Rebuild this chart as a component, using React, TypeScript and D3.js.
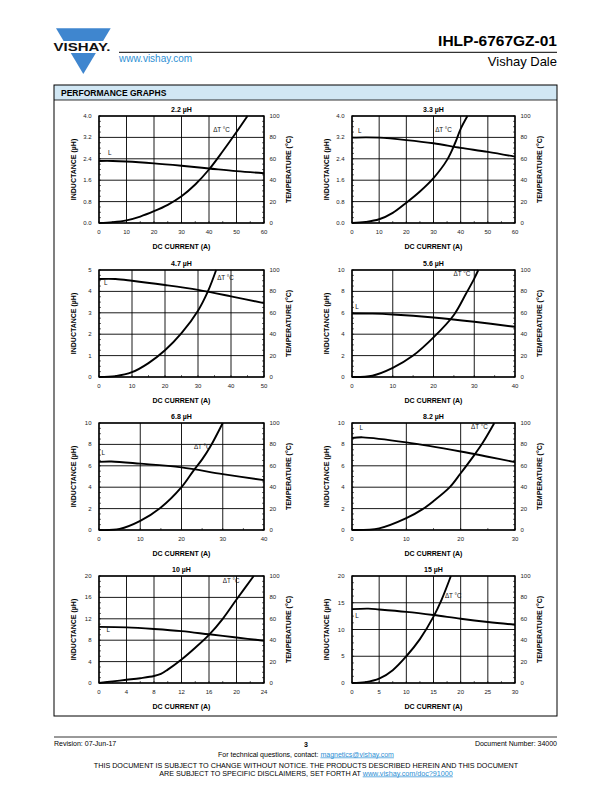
import React from "react";
import * as d3 from "d3";

type Pt = [number, number];

// ---------- chart configuration ----------
const chartTitles = ["2.2 µH", "3.3 µH", "4.7 µH", "5.6 µH", "6.8 µH", "8.2 µH", "10 µH", "15 µH"];
const xMaxes = [60, 60, 50, 40, 40, 30, 24, 30];
const xSteps = [10, 10, 10, 10, 10, 10, 4, 5];
const yMaxes = [4, 4, 5, 10, 10, 10, 20, 20];
const ySteps = [0.8, 0.8, 1, 2, 2, 2, 4, 5];
const yDecimals = [1, 1, 0, 0, 0, 0, 0, 0];
const tempTicks = [0, 20, 40, 60, 80, 100];

// inductance (µH) vs DC current (A)
const ind22: Pt[] = [[0, 2.32], [5, 2.32], [10, 2.3], [20, 2.23], [30, 2.14], [40, 2.04], [50, 1.94], [60, 1.86]];
const ind33: Pt[] = [[0, 3.19], [5, 3.2], [10, 3.19], [20, 3.1], [30, 2.98], [40, 2.81], [50, 2.66], [60, 2.48]];
const ind47: Pt[] = [[0, 4.58], [5, 4.58], [10, 4.5], [20, 4.3], [30, 4.07], [40, 3.77], [50, 3.45]];
const ind56: Pt[] = [[0, 5.94], [5, 5.92], [10, 5.84], [20, 5.56], [30, 5.16], [40, 4.69]];
const ind68: Pt[] = [[0, 6.37], [3, 6.4], [10, 6.2], [20, 5.85], [30, 5.22], [40, 4.66]];
const ind82: Pt[] = [[0, 8.6], [2, 8.66], [10, 8.19], [20, 7.34], [25, 6.85], [30, 6.34]];
const ind10: Pt[] = [[0, 10.5], [4, 10.4], [8, 10.1], [12, 9.7], [16, 9.1], [20, 8.5], [24, 7.9]];
const ind15: Pt[] = [[0, 13.8], [3, 13.9], [5, 13.75], [10, 13.3], [15, 12.7], [20, 12.0], [25, 11.4], [30, 10.9]];

// temperature rise (°C) vs DC current (A)
const temp22: Pt[] = [[0, 0], [5, 0.8], [10, 2.5], [15, 6], [20, 11], [25, 17], [30, 25], [35, 36], [40, 50], [45, 67], [50, 85], [54, 100]];
const temp33: Pt[] = [[0, 0], [5, 1], [10, 3.5], [15, 9.5], [20, 19], [25, 29.5], [30, 42], [35, 59], [38, 75], [40, 88], [42.5, 100]];
const temp47: Pt[] = [[0, 0], [5, 0.8], [10, 4.5], [15, 13], [20, 25], [25, 41], [30, 62], [33, 80], [35.5, 100]];
const temp56: Pt[] = [[0, 0], [5, 1.2], [10, 8.5], [15, 20], [20, 37], [25, 58], [28, 78], [30, 92], [31, 100]];
const temp68: Pt[] = [[0, 0], [5, 1], [10, 8.5], [15, 21], [20, 40], [23, 56], [25, 66], [27, 78], [30, 100]];
const temp82: Pt[] = [[0, 0], [5, 1.5], [10, 11], [13, 19.5], [15, 27], [18, 40], [20, 53], [22.5, 70], [24, 81], [26.2, 100]];
const temp10: Pt[] = [[0, 0], [2, 1.5], [4, 3], [6, 4.5], [8, 6.5], [9, 8.5], [10, 12.5], [12, 22], [14, 33], [16, 45], [18, 60], [20, 78], [22.5, 100]];
const temp15: Pt[] = [[0, 0], [2.5, 0.8], [5, 4], [7.5, 12], [10, 25], [12.5, 41], [15, 62], [16.5, 78], [18.2, 100]];

const inductanceSeries = [ind22, ind33, ind47, ind56, ind68, ind82, ind10, ind15];
const temperatureSeries = [temp22, temp33, temp47, temp56, temp68, temp82, temp10, temp15];

// curve label anchors in data units: [current, inductance] and [current, temperature]
const lLabelAt: Pt[] = [[3.3, 2.55], [2.2, 3.35], [1.5, 4.3], [0.8, 6.4], [0.6, 7.0], [1.4, 9.3], [1.1, 9.6], [0.6, 12.2]];
const dtLabelAt: Pt[] = [[41.5, 85], [30.6, 85], [35.8, 91], [24.9, 94], [23, 76], [21.9, 94], [18, 93], [17.1, 79]];

// ---------- layout ----------
const colX = [99, 352];
const colW = [165, 163];
const rowY = [116, 270, 423, 576];
const plotH = 107;

const FONT = "'Liberation Sans', Arial, Helvetica, sans-serif";
const BLUE = "#3f86cf";
const LINK = "#2e8fd4";

function Chart({ i }: { i: number }) {
  const col = i % 2;
  const row = Math.floor(i / 2);
  const x0 = colX[col];
  const w = colW[col];
  const y0 = rowY[row];
  const h = plotH;

  const xs = d3.scaleLinear().domain([0, xMaxes[i]]).range([x0, x0 + w]);
  const yl = d3.scaleLinear().domain([0, yMaxes[i]]).range([y0 + h, y0]);
  const yt = d3.scaleLinear().domain([0, 100]).range([y0 + h, y0]);

  const xTicks = d3.range(0, xMaxes[i] + 1e-9, xSteps[i]);
  const yTicks = d3.range(0, yMaxes[i] + 1e-9, ySteps[i]);
  const minorL = d3.range(0, yMaxes[i] + 1e-9, ySteps[i] / 4);
  const minorR = d3.range(0, 100 + 1e-9, 5);
  const minorX = d3.range(0, xMaxes[i] + 1e-9, xSteps[i] / 2);

  const curve = d3.curveCatmullRom.alpha(0.5);
  const lineL = d3
    .line<Pt>()
    .x((d) => xs(d[0]))
    .y((d) => yl(d[1]))
    .curve(curve);
  const lineT = d3
    .line<Pt>()
    .x((d) => xs(d[0]))
    .y((d) => yt(d[1]))
    .curve(curve);

  const clipId = `clip-${i}`;
  const cx = x0 + w / 2;
  const cy = y0 + h / 2;

  return (
    <g fontFamily={FONT}>
      <defs>
        <clipPath id={clipId}>
          <rect x={x0} y={y0 - 1} width={w} height={h + 2} />
        </clipPath>
      </defs>
      <rect x={x0} y={y0} width={w} height={h} fill="white" />
      {/* grid */}
      {xTicks.map((t) => (
        <line key={`gx${t}`} x1={xs(t)} x2={xs(t)} y1={y0} y2={y0 + h} stroke="#000" strokeWidth={0.9} />
      ))}
      {yTicks.map((t) => (
        <line key={`gy${t}`} x1={x0} x2={x0 + w} y1={yl(t)} y2={yl(t)} stroke="#000" strokeWidth={0.9} />
      ))}
      {/* minor ticks */}
      {minorL.map((t) => (
        <line key={`ml${t}`} x1={x0} x2={x0 + 2} y1={yl(t)} y2={yl(t)} stroke="#000" strokeWidth={0.6} />
      ))}
      {minorR.map((t) => (
        <line key={`mr${t}`} x1={x0 + w - 2} x2={x0 + w} y1={yt(t)} y2={yt(t)} stroke="#000" strokeWidth={0.6} />
      ))}
      {minorX.map((t) => (
        <line key={`mx${t}`} x1={xs(t)} x2={xs(t)} y1={y0 + h - 2} y2={y0 + h} stroke="#000" strokeWidth={0.6} />
      ))}
      {/* curves */}
      <g clipPath={`url(#${clipId})`} fill="none" stroke="#000" strokeWidth={1.9} strokeLinejoin="round">
        <path d={lineL(inductanceSeries[i]) || ""} />
        <path d={lineT(temperatureSeries[i]) || ""} />
      </g>
      {/* frame */}
      <rect x={x0} y={y0} width={w} height={h} fill="none" stroke="#000" strokeWidth={1.4} />
      {/* curve labels */}
      <text x={xs(lLabelAt[i][0])} y={yl(lLabelAt[i][1])} fontSize={6.3} fill="#111">
        L
      </text>
      <text x={xs(dtLabelAt[i][0])} y={yt(dtLabelAt[i][1])} fontSize={6.3} fill="#111">
        ΔT °C
      </text>
      {/* title */}
      <text x={cx} y={y0 - 4.5} fontSize={7} fontWeight="bold" textAnchor="middle">
        {chartTitles[i]}
      </text>
      {/* left tick labels */}
      {yTicks.map((t) => (
        <text key={`ly${t}`} x={x0 - 7.5} y={yl(t) + 2} fontSize={6} textAnchor="end" fill="#222">
          {t.toFixed(yDecimals[i])}
        </text>
      ))}
      {/* right tick labels */}
      {tempTicks.map((t) => (
        <text key={`ry${t}`} x={x0 + w + 5.5} y={yt(t) + 2} fontSize={6} textAnchor="start" fill="#222">
          {t}
        </text>
      ))}
      {/* bottom tick labels */}
      {xTicks.map((t) => (
        <text key={`bx${t}`} x={xs(t)} y={y0 + h + 10.5} fontSize={6} textAnchor="middle" fill="#222">
          {t}
        </text>
      ))}
      {/* axis titles */}
      <text x={cx} y={y0 + h + 25.5} fontSize={7} fontWeight="bold" textAnchor="middle">
        DC CURRENT (A)
      </text>
      <text
        transform={`translate(${x0 - 23.5},${cy}) rotate(-90)`}
        fontSize={7}
        fontWeight="bold"
        textAnchor="middle"
      >
        INDUCTANCE (µH)
      </text>
      <text
        transform={`translate(${x0 + w + 26.5},${cy}) rotate(-90)`}
        fontSize={7}
        fontWeight="bold"
        textAnchor="middle"
      >
        TEMPERATURE (°C)
      </text>
    </g>
  );
}

export default function App() {
  const idx = d3.range(8);
  return (
    <svg
      width={612}
      height={792}
      viewBox="0 0 612 792"
      style={{ position: "absolute", left: 0, top: 0, background: "white" }}
      fontFamily={FONT}
    >
      <rect width={612} height={792} fill="white" />
      {/* logo */}
      <polygon points="56,28.3 110.7,28.3 83.3,74" fill={BLUE} />
      <rect x={52} y={41} width={62} height={12} fill="white" />
      <text
        x={53.5}
        y={51}
        fontSize={11.5}
        fontWeight={900}
        textLength={57}
        lengthAdjust="spacingAndGlyphs"
        fill="#111"
      >
        VISHAY.
      </text>
      {/* header */}
      <line x1={119} x2={557} y1={52.3} y2={52.3} stroke="#000" strokeWidth={1} />
      <text x={119} y={62} fontSize={10} fill={LINK}>
        www.vishay.com
      </text>
      <text x={557} y={46} fontSize={15.5} fontWeight="bold" textAnchor="end">
        IHLP-6767GZ-01
      </text>
      <text x={557} y={66} fontSize={13} textAnchor="end">
        Vishay Dale
      </text>
      {/* performance box */}
      <rect x={54} y={85} width={503} height={15} fill="#d1e7f4" />
      <line x1={54} x2={557} y1={100} y2={100} stroke="#000" strokeWidth={0.8} />
      <rect x={54} y={85} width={503} height={631} fill="none" stroke="#000" strokeWidth={1} />
      <text x={61} y={96} fontSize={8.5} fontWeight="bold">
        PERFORMANCE GRAPHS
      </text>
      {idx.map((i) => (
        <Chart key={i} i={i} />
      ))}
      {/* footer */}
      <line x1={54} x2={557} y1={737} y2={737} stroke="#000" strokeWidth={0.8} />
      <text x={54} y={745.5} fontSize={7}>
        Revision: 07-Jun-17
      </text>
      <text x={306} y={747} fontSize={7} fontWeight="bold" textAnchor="middle">
        3
      </text>
      <text x={557} y={745.5} fontSize={7} textAnchor="end">
        Document Number: 34000
      </text>
      <text x={306} y={756.5} fontSize={7} textAnchor="middle">
        For technical questions, contact:{" "}
        <tspan fill={LINK} textDecoration="underline">
          magnetics@vishay.com
        </tspan>
      </text>
      <text x={306} y={767.5} fontSize={7.2} textAnchor="middle">
        THIS DOCUMENT IS SUBJECT TO CHANGE WITHOUT NOTICE. THE PRODUCTS DESCRIBED HEREIN AND THIS DOCUMENT
      </text>
      <text x={306} y={775.5} fontSize={7.2} textAnchor="middle">
        ARE SUBJECT TO SPECIFIC DISCLAIMERS, SET FORTH AT{" "}
        <tspan fill={LINK} textDecoration="underline">
          www.vishay.com/doc?91000
        </tspan>
      </text>
    </svg>
  );
}
